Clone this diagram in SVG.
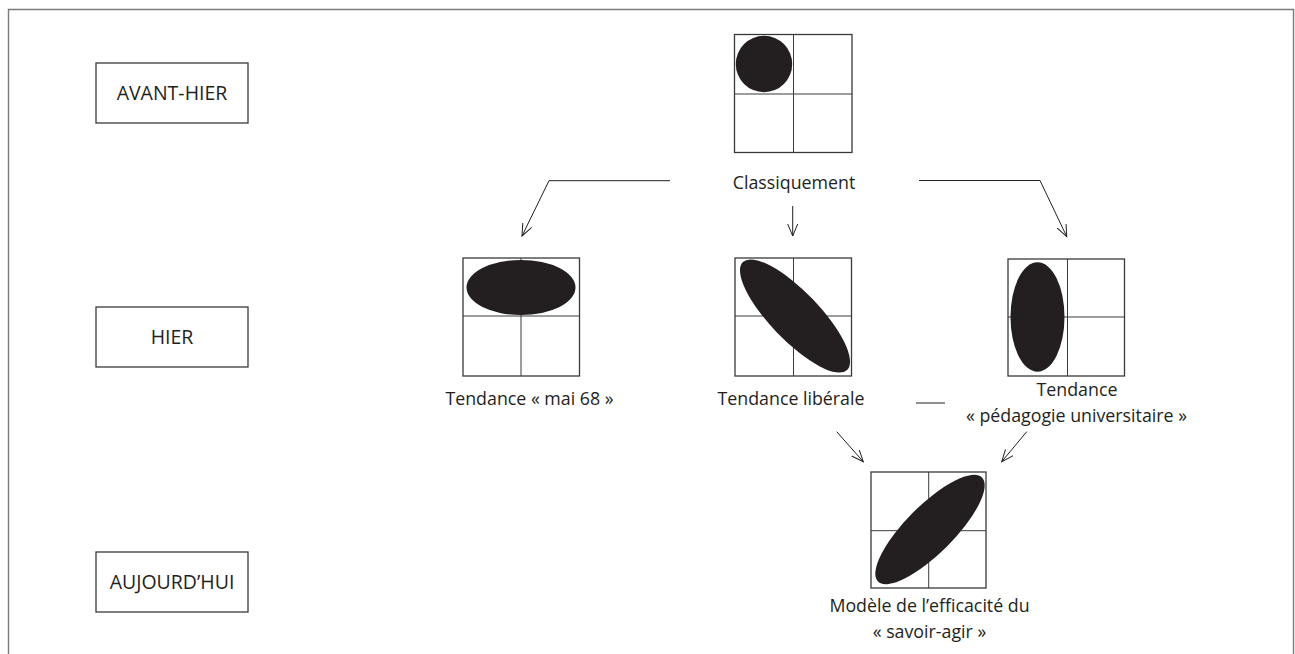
<svg xmlns="http://www.w3.org/2000/svg" width="1295" height="654" viewBox="0 0 1295 654">
<defs>
<marker id="arr" markerWidth="14" markerHeight="12" refX="12" refY="5" orient="auto" markerUnits="userSpaceOnUse">
<path d="M0,0 L12,5 L0,10" fill="none" stroke="#231f20" stroke-width="1"/>
</marker>
</defs>
<style>
.frame{fill:none;stroke:#7a7a7a;stroke-width:1.4}
.box{fill:#fff;stroke:#3a3a3a;stroke-width:1.3}
.grid{fill:#fff;stroke:#3a3a3a;stroke-width:1.3}
.gl{stroke:#3a3a3a;stroke-width:1}
.blob{fill:#231f20}
.lbl{font-family:"Open Sans","Liberation Sans",sans-serif;font-size:19.5px;font-weight:500;fill:#231f20;text-anchor:middle}
.cap{font-family:"Open Sans","Liberation Sans",sans-serif;font-size:17.8px;fill:#231f20;text-anchor:middle}
.con{fill:none;stroke:#231f20;stroke-width:1}
</style>
<rect width="1295" height="654" fill="#fff"/>
<path class="frame" d="M8.5,654 V9.5 H1293.5 V654"/>

<g id="avant-hier">
<rect class="box" x="96" y="63" width="152" height="60"/>
<text class="lbl" x="172" y="100">AVANT-HIER</text>
</g>
<g id="hier">
<rect class="box" x="96" y="307" width="152" height="60"/>
<text class="lbl" x="172" y="344">HIER</text>
</g>
<g id="aujourdhui">
<rect class="box" x="96" y="552" width="152" height="60"/>
<text class="lbl" x="172" y="589">AUJOURD’HUI</text>
</g>

<g id="classiquement">
<rect class="grid" x="734.5" y="34.5" width="117.5" height="118"/>
<line class="gl" x1="793.5" y1="34.5" x2="793.5" y2="152.5"/>
<line class="gl" x1="734.5" y1="94" x2="852" y2="94"/>
<circle class="blob" cx="764" cy="64" r="28.2"/>
<text class="cap" x="794" y="189">Classiquement</text>
</g>

<g id="mai68">
<rect class="grid" x="463" y="258" width="116.5" height="118"/>
<line class="gl" x1="521" y1="258" x2="521" y2="376"/>
<line class="gl" x1="463" y1="316" x2="579.5" y2="316"/>
<ellipse class="blob" cx="521" cy="287.5" rx="54.5" ry="27.5"/>
<text class="cap" x="529.5" y="405">Tendance « mai 68 »</text>
</g>

<g id="liberale">
<rect class="grid" x="735" y="258" width="116.5" height="118"/>
<line class="gl" x1="793.5" y1="258" x2="793.5" y2="376"/>
<line class="gl" x1="735" y1="316" x2="851.5" y2="316"/>
<ellipse class="blob" cx="795" cy="316" rx="75" ry="24.5" transform="rotate(46 795 316)"/>
<text class="cap" x="791" y="405">Tendance libérale</text>
</g>

<g id="pedagogie">
<rect class="grid" x="1008" y="259" width="116.5" height="117"/>
<line class="gl" x1="1067.5" y1="259" x2="1067.5" y2="376"/>
<line class="gl" x1="1008" y1="317" x2="1124.5" y2="317"/>
<ellipse class="blob" cx="1037.5" cy="317" rx="27" ry="54.7"/>
<text class="cap" x="1077" y="396">Tendance</text>
<text class="cap" x="1076.5" y="421.5">« pédagogie universitaire »</text>
</g>

<g id="savoir-agir">
<rect class="grid" x="871" y="472" width="115" height="116"/>
<line class="gl" x1="928.7" y1="472" x2="928.7" y2="588"/>
<line class="gl" x1="871" y1="530.7" x2="986" y2="530.7"/>
<ellipse class="blob" cx="930" cy="529.5" rx="73.5" ry="24" transform="rotate(-45 930 529.5)"/>
<text class="cap" x="929.5" y="611.5">Modèle de l’efficacité du</text>
<text class="cap" x="929.5" y="638">« savoir-agir »</text>
</g>

<g id="connectors">
<path class="con" d="M670,180.7 H549 L522,236" marker-end="url(#arr)"/>
<path class="con" d="M792.7,206 V236" marker-end="url(#arr)"/>
<path class="con" d="M919,180.5 H1040 L1066.7,236.5" marker-end="url(#arr)"/>
<path class="con" d="M836.7,431.7 L863.3,461.7" marker-end="url(#arr)"/>
<path class="con" d="M1026.7,431.7 L1001.7,461.7" marker-end="url(#arr)"/>
<line class="con" x1="916" y1="403" x2="945" y2="403"/>
</g>
</svg>
